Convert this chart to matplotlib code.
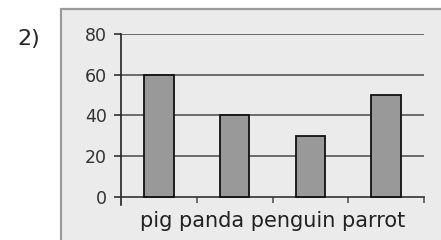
import matplotlib
matplotlib.use("Agg")
import matplotlib.pyplot as plt
from matplotlib.patches import Rectangle

categories = ["pig", "panda", "penguin", "parrot"]
values = [60, 40, 30, 50]
yticks = [0, 20, 40, 60, 80]
xlabel_text = "pig panda penguin parrot"
question = "2)"

W, H = 441, 240
fig = plt.figure(figsize=(W / 100, H / 100), dpi=100)
fig.patch.set_facecolor("white")

# background panel
panel = Rectangle((61.5 / W, -0.2), 1.0, 1.2 - 8.5 / H, transform=fig.transFigure,
                  facecolor="#ebebeb", edgecolor="#9a9a9a", lw=1.6, zorder=-5)
fig.add_artist(panel)

fig.text(17 / W, 1 - 29 / H, question, fontsize=16, color="#222222",
         ha="left", va="top", family="DejaVu Sans")

ax = fig.add_axes([121 / W, 35 / H, (424 - 121) / W, (206 - 35) / H])
ax.set_facecolor("none")
x = list(range(len(categories)))
ax.bar(x, values, width=0.39, color="#999999", edgecolor="#111111", linewidth=1.3, zorder=3)
ax.set_xlim(-0.5, len(categories) - 0.5)
ax.set_ylim(-4, 80)
ax.set_yticks(yticks)
ax.set_yticklabels([str(t) for t in yticks])
ax.set_xticks([i + 0.5 for i in x])
ax.set_xticklabels([])
for t in yticks[1:]:
    ax.axhline(t, color="#555555", lw=1.2, zorder=1)
for s in ["top", "right"]:
    ax.spines[s].set_visible(False)
ax.spines["bottom"].set_position(("data", 0))
ax.spines["bottom"].set_color("#333333")
ax.spines["bottom"].set_linewidth(1.2)
ax.spines["left"].set_color("#222222")
ax.spines["left"].set_linewidth(1.2)
ax.tick_params(axis="y", length=5, width=1.2, color="#333333", pad=5,
               labelsize=12.5, labelcolor="#333333")
ax.tick_params(axis="x", length=4.5, width=1.2, color="#555555")
for lab in ax.get_yticklabels():
    lab.set_family("DejaVu Sans")

fig.text((121 + 424) / 2 / W, 1 - 211 / H, xlabel_text, fontsize=15, color="#222222",
         ha="center", va="top", family="DejaVu Sans")

fig.savefig("out.png", dpi=100)
